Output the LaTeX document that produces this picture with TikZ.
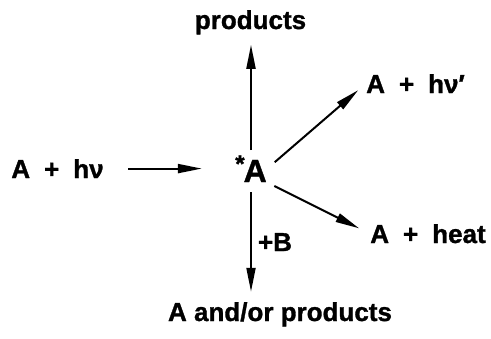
\documentclass[tikz,border=0pt]{standalone}
\usepackage{fontspec}
\setmainfont{Liberation Sans}[BoldFeatures={FakeBold=1.2}]
\usetikzlibrary{arrows.meta}
\newcommand{\gap}{\hspace{7pt}}

\begin{document}
\begin{tikzpicture}[x=0.5pt,y=-0.5pt,
    lbl/.style={font=\fontsize{13}{15}\selectfont\bfseries, inner sep=0pt, anchor=base},
    arr/.style={line width=1pt, -{Triangle[length=12pt,width=4.5pt]}}]
  \useasboundingbox (0,0) rectangle (491,338);
  % species
  \node[lbl] (Astar) at (251,182) {\fontsize{16}{18}\selectfont\raisebox{5pt}{\fontsize{12}{12}\selectfont*}\hspace{-0.5pt}A};
  \node[lbl] (hv) at (57.5,178) {A\gap+\gap hν};
  \node[lbl] (prod) at (250.5,29) {products};
  \node[lbl] (hv2) at (415.5,93) {A\gap+\gap hν′};
  \node[lbl] (heat) at (428,243) {A\gap+\gap heat};
  \node[lbl] (andor) at (280,321) {A and/or products};
  % arrows
  \draw[arr, shorten <=12pt, shorten >=16.5pt] (hv.east) -- (hv.east -| Astar.west);
  \draw[arr, shorten <=2.5pt, shorten >=5pt] (Astar.north) -- (Astar.north |- prod.south);
  \draw[arr, shorten <=5pt, shorten >=5pt] (Astar.east) -- (hv2.west);
  \draw[arr, shorten <=4pt, shorten >=6pt] (Astar.south east) -- (heat.west);
  \draw[arr, shorten <=5pt, shorten >=5pt] (Astar.south) -- (Astar.south |- andor.north)
    node[lbl, pos=0.5, anchor=west, xshift=3pt] (plusB) {+B};
\end{tikzpicture}
\end{document}
